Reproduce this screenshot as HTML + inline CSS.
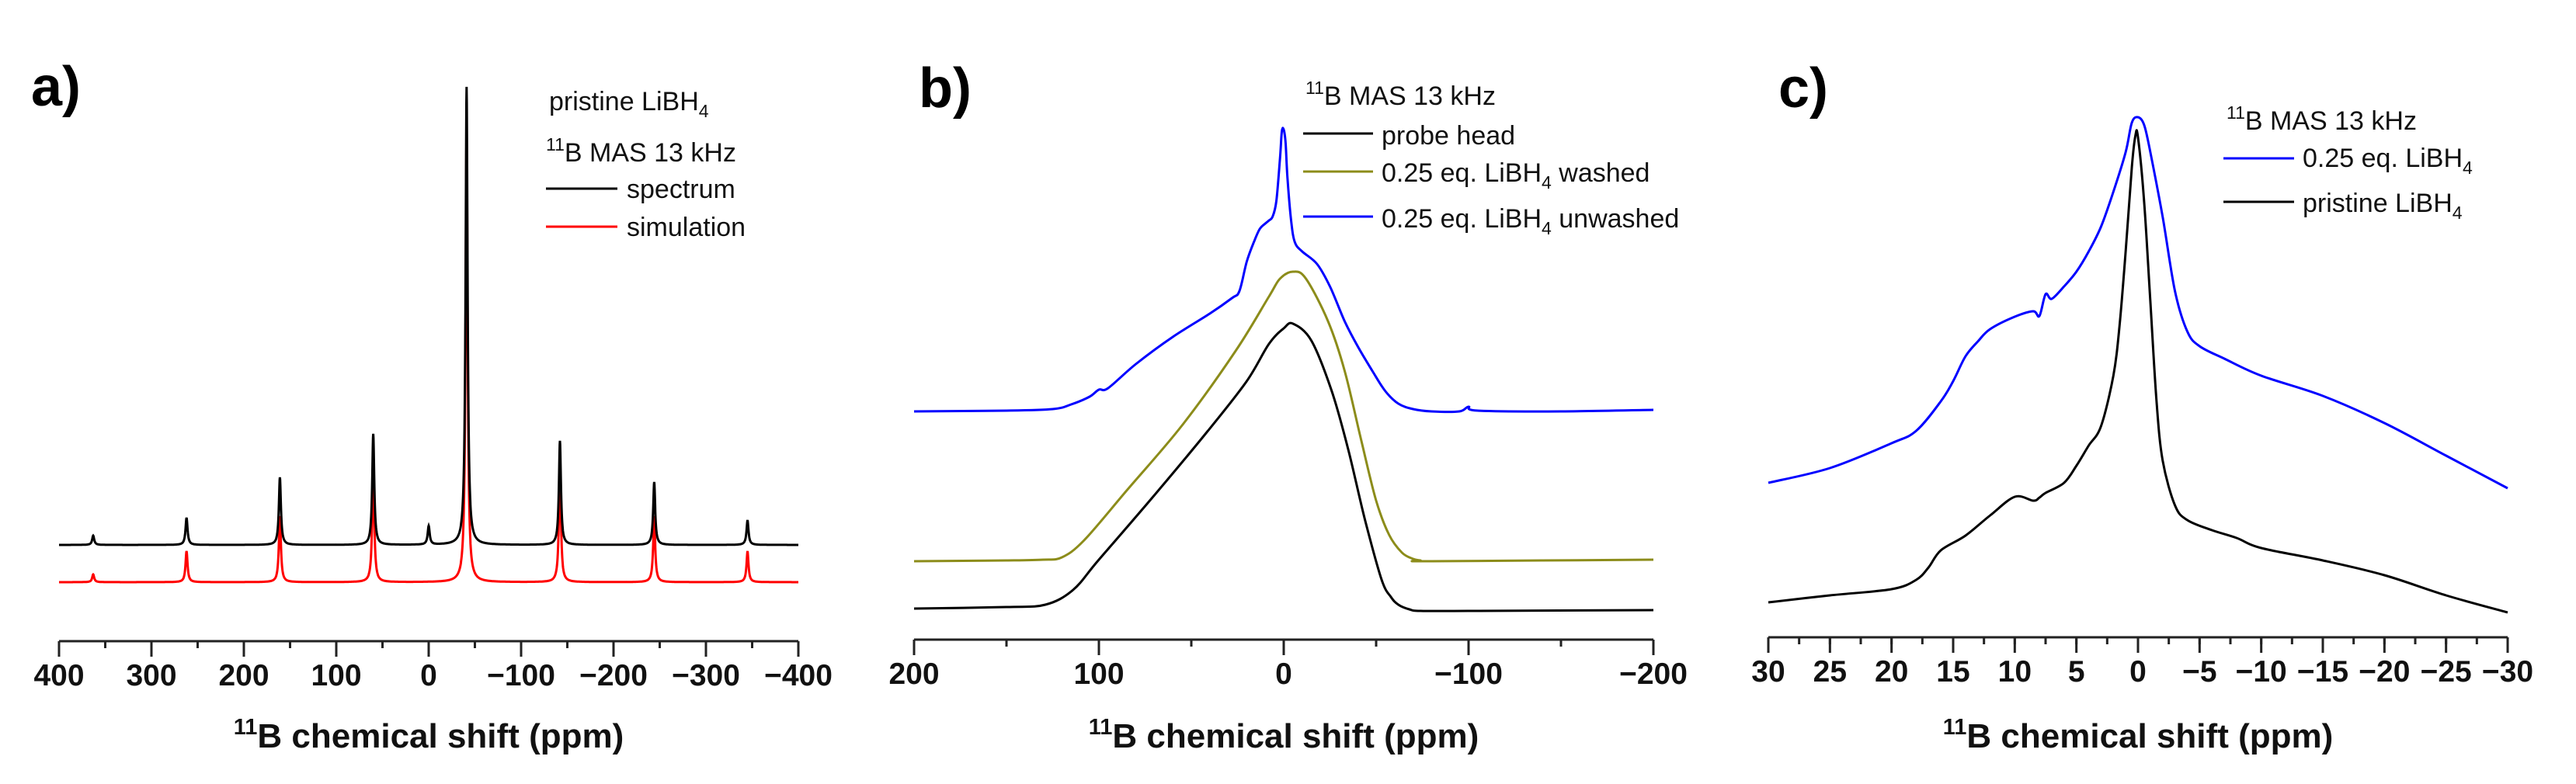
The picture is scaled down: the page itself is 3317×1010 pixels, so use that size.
<!DOCTYPE html>
<html><head><meta charset="utf-8"><style>
html,body{margin:0;padding:0;background:#fff;}
svg{display:block;font-family:"Liberation Sans",Arial,sans-serif;}
</style></head><body>
<svg id="fig" width="3317" height="1010" viewBox="0 0 3317 1010" xmlns="http://www.w3.org/2000/svg">
<rect width="3317" height="1010" fill="#fff"/>
<g id="pa"></g>
<g id="pb"></g>
<g id="pc"></g>
</svg>
<script>
// Panel a: peak lists (ppm, height above axis in a.u.)
const aSpecPos = [363, 262, 161, 60, 0, -41, -142, -244, -345];
const aSpecH   = [136, 159, 211, 267, 148, 714, 258, 205, 156];
const aSpecBase = 124;
const aSimPos = [363, 262, 161, 60, -41, -142, -244, -345];
const aSimH   = [86, 116, 161, 225, 659, 225, 161, 116];
const aSimBase = 76;
const aTicks = [400, 300, 200, 100, 0, -100, -200, -300, -400];
const aTickLabels = ["400","300","200","100","0","\u2212100","\u2212200","\u2212300","\u2212400"];

// Panel b
const bBluePpm = [200,150,125,115,105,100,95,80,60,40,28,24,20,16,13,10,8,6,4,2,1,0,-1,-2,-4,-6,-10,-18,-25,-33,-40,-48,-55,-62,-70,-80,-95,-100,-105,-150,-200];
const bBlueVal = [294,295,297,303,313,322,324,355,390,420,440,449,487,513,529,536,540,545,565,620,655,657,640,595,540,512,500,484,455,410,378,346,320,304,297,294,294,300,295,294,296];
const bOlivePpm = [200,150,130,120,108,85,55,26,8,2,-5,-12,-24,-33,-42,-50,-57,-64,-70,-74,-80,-200];
const bOliveVal = [101,102,103,106,128,192,276,372,442,465,474,465,410,346,256,179,135,112,104,102,101,103];
const bBlackPpm = [200,150,129,114,100,70,41,20,8,0,-5,-15,-26,-35,-44,-53,-58,-62,-68,-74,-100,-200];
const bBlackVal = [40,42,45,64,103,186,269,333,381,401,407,385,320,244,154,77,55,45,39,37,37,38];
const bTicks = [200, 100, 0, -100, -200];
const bTickLabels = ["200","100","0","\u2212100","\u2212200"];

// Panel c
const cBluePpm = [30,25,20,18,16,15,14,13,12,10,8.5,8,7.5,7,6,5,4,3,2,1,0.5,0,-0.5,-1,-2,-3,-4,-5,-7,-10,-15,-20,-25,-30];
const cBlueVal = [199,218,250,266,304,330,362,381,397,413,420,414,442,436,452,471,497,529,574,625,663,670,660,625,542,446,394,375,359,337,311,276,234,192];
const cBlackPpm = [30,25,20,18,17,16,14,12,10,8.5,8,7.5,6,5,4,3,2,1.5,1,0.5,0.2,0,-0.5,-1,-1.5,-2,-3,-4,-6,-8,-10,-15,-20,-25,-30];
const cBlackVal = [45,54,62,74,90,112,131,157,181,176,180,186,199,221,247,272,337,401,497,606,647,644,561,433,305,228,170,151,138,128,115,99,80,54,32];
const cTicks = [30,25,20,15,10,5,0,-5,-10,-15,-20,-25,-30];
const cTickLabels = ["30","25","20","15","10","5","0","\u22125","\u221210","\u221215","\u221220","\u221225","\u221230"];

const NS = "http://www.w3.org/2000/svg";
function mk(tag, attrs, parent){const e=document.createElementNS(NS,tag);for(const k in attrs)e.setAttribute(k,attrs[k]);parent.appendChild(e);return e;}

function axis(g, x0, x1, axisY, pmax, pmin, ticks, labels, minorStep){
  const sx = p => x0 + (pmax - p) / (pmax - pmin) * (x1 - x0);
  const ln = mk('line',{x1:x0,x2:x1,y1:axisY,y2:axisY,stroke:'#222','stroke-width':3},g);
  
  
  for(let p=pmax; p>=pmin-1e-9; p-=minorStep){
    const t = mk('line',{x1:sx(p),x2:sx(p),y1:axisY,y2:axisY+9,stroke:'#222','stroke-width':3},g);
    
    
  }
  ticks.forEach((p,i)=>{
    const t = mk('line',{x1:sx(p),x2:sx(p),y1:axisY,y2:axisY+20,stroke:'#222','stroke-width':3},g);
    
    
    const tx = mk('text',{x:sx(p),y:axisY+57,'text-anchor':'middle','font-size':39,'font-weight':'bold',fill:'#111'},g);
    tx.textContent = labels[i];
    
    
  });
  const cx=(x0+x1)/2;
  const tt = mk('text',{x:cx,y:963,'text-anchor':'middle','font-size':44,'font-weight':'bold',fill:'#111'},g);
  tt.innerHTML = '<tspan font-size="29" dy="-17">11</tspan><tspan dy="17">B chemical shift (ppm)</tspan>';
  
  
  return sx;
}

function smoothPath(pts){
  let d = `M${pts[0][0].toFixed(1)},${pts[0][1].toFixed(1)}`;
  for(let i=0;i<pts.length-1;i++){
    const p0=pts[Math.max(0,i-1)],p1=pts[i],p2=pts[i+1],p3=pts[Math.min(pts.length-1,i+2)];
    const c1x=p1[0]+(p2[0]-p0[0])/6,c1y=p1[1]+(p2[1]-p0[1])/6;
    const c2x=p2[0]-(p3[0]-p1[0])/6,c2y=p2[1]-(p3[1]-p1[1])/6;
    d+=`C${c1x.toFixed(1)},${c1y.toFixed(1)} ${c2x.toFixed(1)},${c2y.toFixed(1)} ${p2[0].toFixed(1)},${p2[1].toFixed(1)}`;
  }
  return d;
}

function legendText(g,x,y,html,name){
  const t = mk('text',{x:x,y:y,'font-size':34,fill:'#111'},g);
  t.innerHTML = html;
  
  
}
function legendLine(g,x0,x1,y,color,name){
  const l = mk('line',{x1:x0,x2:x1,y1:y,y2:y,stroke:color,'stroke-width':3},g);
  
  
}
function panelLabel(g,x,y,txt){
  const t = mk('text',{x:x,y:y,'font-size':72,'font-weight':'bold',fill:'#000'},g);
  t.textContent = txt;
  
  
}
const SUB4 = '<tspan font-size="23" dy="9">4</tspan>';
const SUP11 = '<tspan font-size="23" dy="-14">11</tspan><tspan dy="14">';

// ---------- Panel a ----------
(function(){
  const g=document.getElementById('pa');
  const axisY=826;
  const sx=axis(g,76,1028,axisY,400,-400,aTicks,aTickLabels,50);
  function lor(pos,h,base,hw){
    const pts=[];
    for(let p=400;p>=-400;p-=0.25){
      let v=base;
      pos.forEach((c,i)=>{const d=(p-c)/hw;v+=(h[i]-base)/(1+d*d);});
      pts.push([sx(p),axisY-v]);
    }
    return 'M'+pts.map(q=>q[0].toFixed(1)+','+q[1].toFixed(1)).join('L');
  }
  const sim=mk('path',{d:lor(aSimPos,aSimH,aSimBase,1.3),fill:'none',stroke:'#ff0000','stroke-width':3},g);
  
  
  const spec=mk('path',{d:lor(aSpecPos,aSpecH,aSpecBase,1.3),fill:'none',stroke:'#000','stroke-width':3},g);
  
  
  panelLabel(g,40,136,'a)');
  legendText(g,707,142,'pristine LiBH'+SUB4,'legend-title');
  legendText(g,703,208,SUP11+'B MAS 13 kHz</tspan>','legend-subtitle');
  legendLine(g,703,795,243,'#000','legend-spectrum-line');
  legendText(g,807,255,'spectrum','legend-spectrum');
  legendLine(g,703,795,292,'#ff0000','legend-simulation-line');
  legendText(g,807,304,'simulation','legend-simulation');
})();

// ---------- Panel b ----------
(function(){
  const g=document.getElementById('pb');
  const axisY=824;
  const sx=axis(g,1177,2129,axisY,200,-200,bTicks,bTickLabels,50);
  [[bBlackPpm,bBlackVal,'#000','probe-head-trace'],[bOlivePpm,bOliveVal,'#8c8c1a','washed-trace'],[bBluePpm,bBlueVal,'#0000ff','unwashed-trace']].forEach(s=>{
    const pts=s[0].map((p,i)=>[sx(p),axisY-s[1][i]]);
    const e=mk('path',{d:smoothPath(pts),fill:'none',stroke:s[2],'stroke-width':3},g);
    
    
  });
  panelLabel(g,1183,138,'b)');
  legendText(g,1681,135,SUP11+'B MAS 13 kHz</tspan>','legend-title');
  legendLine(g,1678,1768,172,'#000','legend-probe-line');
  legendText(g,1779,186,'probe head','legend-probe-head');
  legendLine(g,1678,1768,221,'#8c8c1a','legend-washed-line');
  legendText(g,1779,234,'0.25 eq. LiBH'+SUB4+'<tspan dy="-9"> washed</tspan>','legend-washed');
  legendLine(g,1678,1768,279,'#0000ff','legend-unwashed-line');
  legendText(g,1779,293,'0.25 eq. LiBH'+SUB4+'<tspan dy="-9"> unwashed</tspan>','legend-unwashed');
})();

// ---------- Panel c ----------
(function(){
  const g=document.getElementById('pc');
  const axisY=821;
  const sx=axis(g,2277,3229,axisY,30,-30,cTicks,cTickLabels,2.5);
  [[cBlackPpm,cBlackVal,'#000','pristine-trace'],[cBluePpm,cBlueVal,'#0000ff','composite-trace']].forEach(s=>{
    const pts=s[0].map((p,i)=>[sx(p),axisY-s[1][i]]);
    const e=mk('path',{d:smoothPath(pts),fill:'none',stroke:s[2],'stroke-width':3},g);
    
    
  });
  panelLabel(g,2290,138,'c)');
  legendText(g,2867,167,SUP11+'B MAS 13 kHz</tspan>','legend-title');
  legendLine(g,2863,2954,204,'#0000ff','legend-composite-line');
  legendText(g,2965,215,'0.25 eq. LiBH'+SUB4,'legend-composite');
  legendLine(g,2863,2954,260,'#000','legend-pristine-line');
  legendText(g,2965,273,'pristine LiBH'+SUB4,'legend-pristine');
})();
</script>
</body></html>
